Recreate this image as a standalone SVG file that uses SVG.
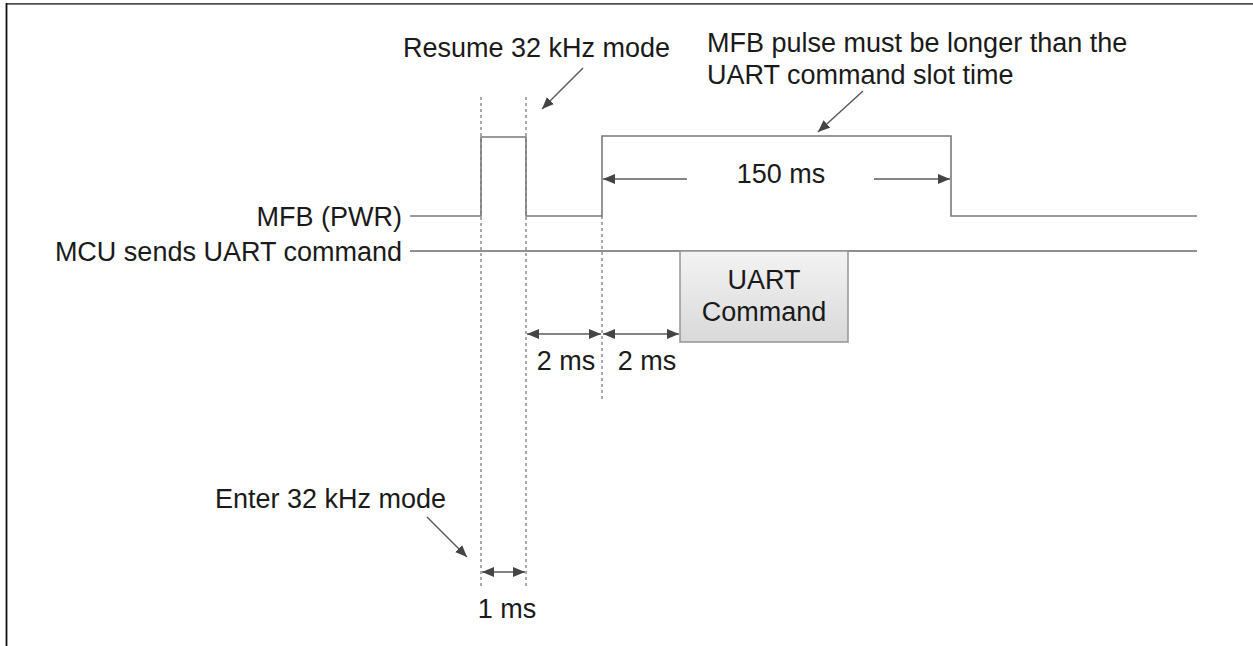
<svg xmlns="http://www.w3.org/2000/svg" width="1253" height="646" viewBox="0 0 1253 646">
  <style>
    text { font-family: "Liberation Sans", Arial, sans-serif; font-size: 27px; fill: #1a1a1a; }
    .wave { fill: none; stroke: #7a7a7a; stroke-width: 1.6; }
    .bus { fill: none; stroke: #6a6a6a; stroke-width: 1.5; }
    .dash { fill: none; stroke: #555; stroke-width: 1; stroke-dasharray: 3 3; }
    .arr { fill: none; stroke: #5a5a5a; stroke-width: 1.5; }
  </style>
  <defs>
    <marker id="ah" viewBox="0 0 12 10" refX="12" refY="5" markerWidth="12" markerHeight="10" markerUnits="userSpaceOnUse" orient="auto-start-reverse">
      <path d="M0,0 L12,5 L0,10 Z" fill="#444"/>
    </marker>
    <linearGradient id="boxg" x1="0" y1="0" x2="0" y2="1">
      <stop offset="0" stop-color="#f3f3f3"/>
      <stop offset="1" stop-color="#d9d9d9"/>
    </linearGradient>
  </defs>

  <rect width="1253" height="646" fill="#fff"/>
  <g id="frame">
    <line x1="6" y1="3.9" x2="1253" y2="3.9" stroke="#505050" stroke-width="1.8"/>
    <line x1="6.5" y1="3" x2="6.5" y2="646" stroke="#111" stroke-width="1.8"/>
  </g>

  <g id="labels">
    <text x="402" y="226" text-anchor="end">MFB (PWR)</text>
    <text x="402" y="261" text-anchor="end">MCU sends UART command</text>
    <text x="403" y="57">Resume 32 kHz mode</text>
    <text x="707" y="52">MFB pulse must be longer than the</text>
    <text x="707" y="84">UART command slot time</text>
    <text x="446" y="508" text-anchor="end">Enter 32 kHz mode</text>
    <text x="781" y="183" text-anchor="middle">150 ms</text>
    <text x="566" y="370" text-anchor="middle">2 ms</text>
    <text x="647" y="370" text-anchor="middle">2 ms</text>
    <text x="507" y="618" text-anchor="middle">1 ms</text>
  </g>

  <g id="guides">
    <line class="dash" x1="481" y1="97" x2="481" y2="588"/>
    <line class="dash" x1="526" y1="97" x2="526" y2="588"/>
    <line class="dash" x1="602" y1="216" x2="602" y2="402"/>
  </g>

  <g id="mfb-signal">
    <polyline class="wave" points="410,216 481,216 481,137 526,137 526,216 602,216 602,136 951,136 951,216 1197,216"/>
  </g>

  <g id="mcu-signal">
    <line class="bus" x1="410" y1="251" x2="1197" y2="251"/>
  </g>

  <g id="uart-command">
    <rect x="680" y="251" width="168" height="91" fill="url(#boxg)" stroke="#959595" stroke-width="1.5"/>
    <text x="764" y="289" text-anchor="middle">UART</text>
    <text x="764" y="321" text-anchor="middle">Command</text>
  </g>

  <g id="connectors">
    <line class="arr" x1="583" y1="68" x2="542" y2="109" marker-end="url(#ah)"/>
    <line class="arr" x1="863" y1="91" x2="818" y2="132" marker-end="url(#ah)"/>
    <line class="arr" x1="427" y1="517" x2="467" y2="557" marker-end="url(#ah)"/>
    <line class="arr" x1="687" y1="179" x2="603" y2="179" marker-end="url(#ah)"/>
    <line class="arr" x1="874" y1="179" x2="950" y2="179" marker-end="url(#ah)"/>
    <line class="arr" x1="527" y1="334" x2="601" y2="334" marker-start="url(#ah)" marker-end="url(#ah)"/>
    <line class="arr" x1="603" y1="334" x2="679" y2="334" marker-start="url(#ah)" marker-end="url(#ah)"/>
    <line class="arr" x1="482" y1="572" x2="525" y2="572" marker-start="url(#ah)" marker-end="url(#ah)"/>
  </g>
</svg>
